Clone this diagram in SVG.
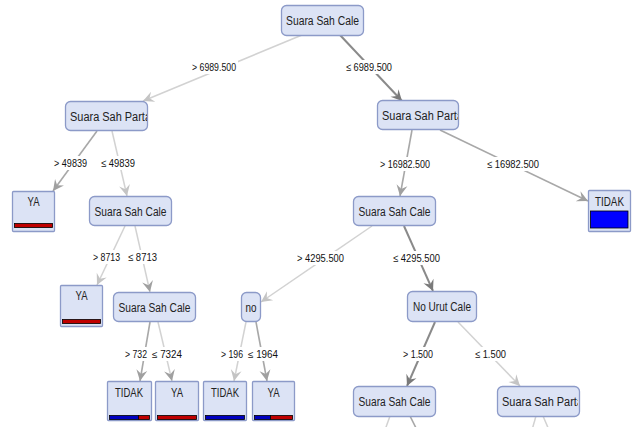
<svg xmlns="http://www.w3.org/2000/svg" width="638" height="427" viewBox="0 0 638 427">
<style>
.n{fill:#dce3f5;stroke:#8c9ac8;stroke-width:1.3}
.t{font-family:"Liberation Sans",Arial,sans-serif;font-size:12px;fill:#222}
.l{font-family:"Liberation Sans",Arial,sans-serif;font-size:11px;fill:#111;text-anchor:middle}
.s{font-size:10px}
.bg{fill:#fff}
.e{fill:none}
.dk{stroke:#8a8a8a;stroke-width:2}
.md{stroke:#a8a8a8;stroke-width:1.6}
.lt{stroke:#d2d2d2;stroke-width:1.5}
.bar{stroke:#000;stroke-width:0.8}
</style>
<defs>
<marker id="ad" markerUnits="userSpaceOnUse" viewBox="-12 -7 14 14" refX="0" refY="0" markerWidth="14" markerHeight="14" orient="auto"><path d="M-11,-5.5 L0,0 L-11,5.5 L-7,0 Z" fill="#7a7a7a"/></marker>
<marker id="am" markerUnits="userSpaceOnUse" viewBox="-12 -7 14 14" refX="0" refY="0" markerWidth="14" markerHeight="14" orient="auto"><path d="M-11,-5.5 L0,0 L-11,5.5 L-7,0 Z" fill="#a0a0a0"/></marker>
<marker id="al" markerUnits="userSpaceOnUse" viewBox="-12 -7 14 14" refX="0" refY="0" markerWidth="14" markerHeight="14" orient="auto"><path d="M-11,-5.5 L0,0 L-11,5.5 L-7,0 Z" fill="#c4c4c4"/></marker>
<clipPath id="c1"><rect x="66" y="101" width="81" height="30"/></clipPath>
<clipPath id="c2"><rect x="378" y="101" width="80" height="30"/></clipPath>
<clipPath id="c3"><rect x="498" y="386" width="80" height="30"/></clipPath>
</defs>
<rect width="638" height="427" fill="#fff"/>
<g id="connectors">
<line class="e lt" x1="302" y1="35" x2="143" y2="101" marker-end="url(#al)"/>
<line class="e dk" x1="340" y1="35" x2="402" y2="101" marker-end="url(#ad)"/>
<line class="e md" x1="97" y1="131" x2="53" y2="191" marker-end="url(#am)"/>
<line class="e lt" x1="112" y1="131" x2="127" y2="196" marker-end="url(#al)"/>
<line class="e md" x1="412" y1="130" x2="400" y2="196" marker-end="url(#am)"/>
<line class="e md" x1="440" y1="130" x2="588" y2="201" marker-end="url(#am)"/>
<line class="e lt" x1="125" y1="226" x2="97" y2="285" marker-end="url(#al)"/>
<line class="e lt" x1="135" y1="226" x2="150" y2="292" marker-end="url(#am)"/>
<line class="e lt" x1="372" y1="226" x2="261" y2="302" marker-end="url(#al)"/>
<line class="e dk" x1="404" y1="226" x2="433" y2="291" marker-end="url(#ad)"/>
<line class="e md" x1="150" y1="322" x2="140" y2="381" marker-end="url(#am)"/>
<line class="e lt" x1="158" y1="322" x2="172" y2="381" marker-end="url(#am)"/>
<line class="e lt" x1="246" y1="322" x2="234" y2="381" marker-end="url(#al)"/>
<line class="e md" x1="256" y1="322" x2="267" y2="381" marker-end="url(#am)"/>
<line class="e dk" x1="435" y1="322" x2="407" y2="386" marker-end="url(#ad)"/>
<line class="e lt" x1="458" y1="322" x2="520" y2="386" marker-end="url(#al)"/>
<line class="e lt" x1="390" y1="416" x2="385" y2="430"/>
<line class="e md" x1="410" y1="416" x2="417" y2="430"/>
<line class="e lt" x1="536" y1="416" x2="532" y2="430"/>
<line class="e lt" x1="543" y1="416" x2="549" y2="430"/>
</g>
<g id="labels">
<rect class="bg" x="190" y="60" width="48" height="14"/><text class="l" x="214" y="71" textLength="44" lengthAdjust="spacingAndGlyphs">&gt; 6989.500</text>
<rect class="bg" x="344" y="60" width="50" height="14"/><text class="l" x="369" y="71" textLength="46" lengthAdjust="spacingAndGlyphs">≤ 6989.500</text>
<rect class="bg" x="52" y="156" width="37" height="14"/><text class="l" x="70.5" y="167" textLength="33" lengthAdjust="spacingAndGlyphs">&gt; 49839</text>
<rect class="bg" x="99" y="156" width="38" height="14"/><text class="l" x="118" y="167" textLength="34" lengthAdjust="spacingAndGlyphs">≤ 49839</text>
<rect class="bg" x="378" y="157" width="54" height="14"/><text class="l" x="405" y="168" textLength="50" lengthAdjust="spacingAndGlyphs">&gt; 16982.500</text>
<rect class="bg" x="485" y="157" width="56" height="14"/><text class="l" x="513" y="168" textLength="52" lengthAdjust="spacingAndGlyphs">≤ 16982.500</text>
<rect class="bg" x="91" y="250" width="31" height="14"/><text class="l" x="106.5" y="261" textLength="27" lengthAdjust="spacingAndGlyphs">&gt; 8713</text>
<rect class="bg" x="126" y="250" width="33" height="14"/><text class="l" x="142.5" y="261" textLength="29" lengthAdjust="spacingAndGlyphs">≤ 8713</text>
<rect class="bg" x="295" y="251" width="51" height="14"/><text class="l" x="320.5" y="262" textLength="47" lengthAdjust="spacingAndGlyphs">&gt; 4295.500</text>
<rect class="bg" x="391" y="251" width="51" height="14"/><text class="l" x="416.5" y="262" textLength="47" lengthAdjust="spacingAndGlyphs">≤ 4295.500</text>
<rect class="bg" x="124" y="347" width="59" height="14"/><text class="l s" x="136" y="358" textLength="22" lengthAdjust="spacingAndGlyphs">&gt; 732</text><text class="l s" x="167" y="358" textLength="30" lengthAdjust="spacingAndGlyphs">≤ 7324</text>
<rect class="bg" x="220" y="347" width="59" height="14"/><text class="l s" x="232" y="358" textLength="22" lengthAdjust="spacingAndGlyphs">&gt; 196</text><text class="l s" x="263" y="358" textLength="30" lengthAdjust="spacingAndGlyphs">≤ 1964</text>
<rect class="bg" x="401" y="347" width="34" height="14"/><text class="l" x="418" y="358" textLength="30" lengthAdjust="spacingAndGlyphs">&gt; 1.500</text>
<rect class="bg" x="473" y="347" width="35" height="14"/><text class="l" x="490.5" y="358" textLength="31" lengthAdjust="spacingAndGlyphs">≤ 1.500</text>
</g>
<g id="root"><rect class="n" x="281.5" y="5.5" width="82" height="30" rx="5"/><text class="t" x="322.5" y="25" text-anchor="middle" textLength="73" lengthAdjust="spacingAndGlyphs">Suara Sah Cale</text></g>
<g id="n_left"><rect class="n" x="65.5" y="101.5" width="82" height="29" rx="5"/><text class="t" x="70" y="120.5" textLength="81" lengthAdjust="spacingAndGlyphs" clip-path="url(#c1)">Suara Sah Parta</text></g>
<g id="n_right"><rect class="n" x="377.5" y="100.5" width="81" height="29" rx="5"/><text class="t" x="382" y="119.5" textLength="81" lengthAdjust="spacingAndGlyphs" clip-path="url(#c2)">Suara Sah Parta</text></g>
<g id="leaf_ya1"><rect class="n" x="12.5" y="191.5" width="42" height="40" rx="1"/><text class="t" x="33.5" y="206" text-anchor="middle" textLength="12" lengthAdjust="spacingAndGlyphs">YA</text><rect class="bar" x="14.5" y="223.5" width="38" height="4" fill="#c00000"/></g>
<g id="n_sc_l"><rect class="n" x="89.5" y="196.5" width="82" height="29" rx="5"/><text class="t" x="130.5" y="215.5" text-anchor="middle" textLength="72" lengthAdjust="spacingAndGlyphs">Suara Sah Cale</text></g>
<g id="n_sc_r"><rect class="n" x="353.5" y="196.5" width="82" height="29" rx="5"/><text class="t" x="394.5" y="215.5" text-anchor="middle" textLength="72" lengthAdjust="spacingAndGlyphs">Suara Sah Cale</text></g>
<g id="leaf_tidak_r"><rect class="n" x="588.5" y="190.5" width="42" height="41" rx="1"/><text class="t" x="609.5" y="206" text-anchor="middle" textLength="29" lengthAdjust="spacingAndGlyphs">TIDAK</text><rect class="bar" x="590.5" y="211" width="37.5" height="17" fill="#0000ff"/></g>
<g id="leaf_ya2"><rect class="n" x="60.5" y="285.5" width="42" height="41" rx="1"/><text class="t" x="81.5" y="300" text-anchor="middle" textLength="12" lengthAdjust="spacingAndGlyphs">YA</text><rect class="bar" x="62.5" y="319.5" width="38" height="4" fill="#c00000"/></g>
<g id="n_sc_3"><rect class="n" x="113.5" y="292.5" width="82" height="29" rx="5"/><text class="t" x="154.5" y="311.5" text-anchor="middle" textLength="72" lengthAdjust="spacingAndGlyphs">Suara Sah Cale</text></g>
<g id="n_no"><rect class="n" x="241.5" y="292.5" width="19" height="29" rx="5"/><text class="t" x="251" y="311.5" text-anchor="middle" textLength="11" lengthAdjust="spacingAndGlyphs">no</text></g>
<g id="n_nourut"><rect class="n" x="407.5" y="291.5" width="69" height="30" rx="5"/><text class="t" x="442" y="311" text-anchor="middle" textLength="58" lengthAdjust="spacingAndGlyphs">No Urut Cale</text></g>
<g id="leaf_tidak1"><rect class="n" x="107.5" y="381.5" width="44" height="39" rx="1"/><text class="t" x="129" y="397" text-anchor="middle" textLength="28" lengthAdjust="spacingAndGlyphs">TIDAK</text><rect class="bar" x="109.5" y="415.5" width="29" height="4" fill="#0000c0"/><rect class="bar" x="138.5" y="415.5" width="11" height="4" fill="#c00000"/></g>
<g id="leaf_ya3"><rect class="n" x="155.5" y="381.5" width="43" height="39" rx="1"/><text class="t" x="177" y="397" text-anchor="middle" textLength="12" lengthAdjust="spacingAndGlyphs">YA</text><rect class="bar" x="157.5" y="415.5" width="39" height="4" fill="#c00000"/></g>
<g id="leaf_tidak2"><rect class="n" x="203.5" y="381.5" width="43" height="39" rx="1"/><text class="t" x="225" y="397" text-anchor="middle" textLength="28" lengthAdjust="spacingAndGlyphs">TIDAK</text><rect class="bar" x="205.5" y="415.5" width="39" height="4" fill="#0000c0"/></g>
<g id="leaf_ya4"><rect class="n" x="252.5" y="381.5" width="42" height="39" rx="1"/><text class="t" x="273.5" y="397" text-anchor="middle" textLength="12" lengthAdjust="spacingAndGlyphs">YA</text><rect class="bar" x="254.5" y="415.5" width="16" height="4" fill="#0000c0"/><rect class="bar" x="270.5" y="415.5" width="22" height="4" fill="#c00000"/></g>
<g id="n_sc_4"><rect class="n" x="353.5" y="386.5" width="82" height="30" rx="5"/><text class="t" x="394.5" y="406" text-anchor="middle" textLength="72" lengthAdjust="spacingAndGlyphs">Suara Sah Cale</text></g>
<g id="n_parta_4"><rect class="n" x="497.5" y="386.5" width="82" height="30" rx="5"/><text class="t" x="502" y="406" textLength="81" lengthAdjust="spacingAndGlyphs" clip-path="url(#c3)">Suara Sah Parta</text></g>
</svg>
